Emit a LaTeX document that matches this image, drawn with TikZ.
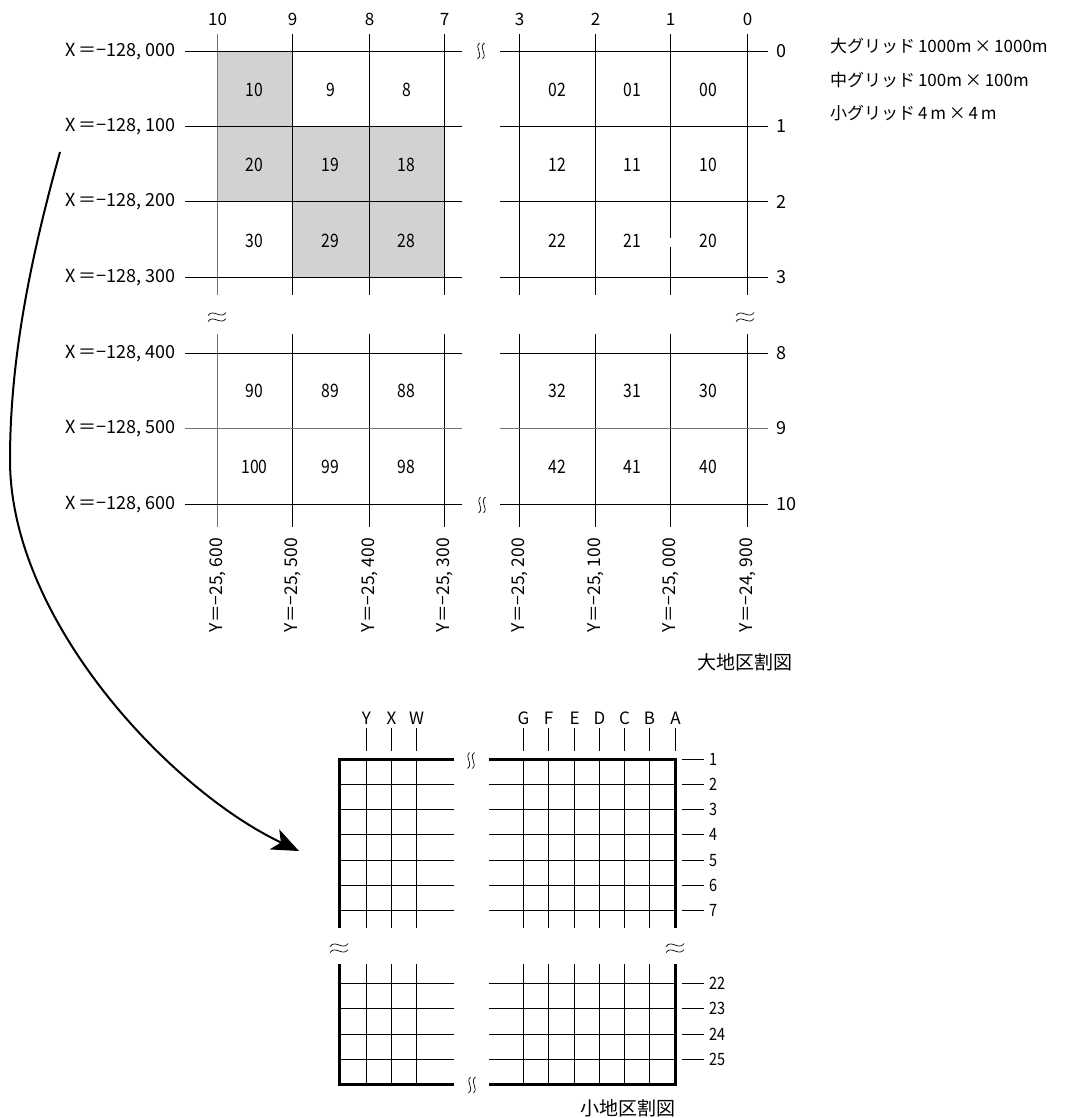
\documentclass[tikz,border=0pt]{standalone}
\usepackage{fontspec}
\usepackage{graphicx}
\setmainfont{Noto Sans CJK JP}
\usetikzlibrary{arrows.meta}
\newcommand{\myfs}[1]{\fontsize{#1}{#1}\selectfont}
\newcommand{\cnum}[1]{\scalebox{0.85}[1]{#1}}
\definecolor{shadegray}{RGB}{209,210,212}
\tikzset{
  gl/.style={line width=1.2pt, black},
  glgray/.style={line width=1.2pt, black!55},
  frameline/.style={line width=2.6pt, black},
  wav/.style={line width=0.7pt, black},
  toplab/.style={inner sep=0pt, font=\myfs{17}},
  sidelab/.style={inner sep=0pt, font=\myfs{18}, anchor=west},
  xlab/.style={inner sep=0pt, font=\myfs{18}, anchor=east},
  ylab/.style={inner sep=0pt, font=\myfs{17.5}, anchor=east, rotate=90},
  cellnum/.style={inner sep=0pt, font=\myfs{18.5}},
  legend/.style={inner sep=0pt, font=\myfs{17}, anchor=west},
  title/.style={inner sep=0pt, font=\myfs{19}},
  letlab/.style={inner sep=0pt, font=\myfs{17}},
  srowlab/.style={inner sep=0pt, font=\myfs{17}, anchor=west},
  pics/approxh/.style={code={
    \draw[wav] (-9,-1.5) .. controls (-4,-9) and (4,3) .. (9,-4.5);
    \draw[wav] (-9,4.5) .. controls (-4,-3) and (4,9) .. (9,1.5);
  }},
  pics/approxv/.style={code={
    \draw[wav] (-1.5,-8) .. controls (-7,-3) and (3,3) .. (-3.5,8);
    \draw[wav] (3.5,-8) .. controls (-3,-3) and (7,3) .. (1.5,8);
  }},
}
\begin{document}
\begin{tikzpicture}[x=1pt,y=-1pt]
\useasboundingbox (0,0) rectangle (1065,1118);

% ---------- large grid ----------
\fill[shadegray] (217.5,51.5) -- (292.5,51.5) -- (292.5,126.5) -- (444.5,126.5) -- (444.5,277.5)
  -- (292.5,277.5) -- (292.5,201.5) -- (217.5,201.5) -- cycle;

\draw[glgray] (217.5,34) -- (217.5,295);
\foreach \x in {292.5,369.5,444.5,519.5,595.5,747.5} \draw[gl] (\x,34) -- (\x,295);
\draw[gl] (670.5,34) -- (670.5,238) (670.5,247) -- (670.5,295);
\draw[glgray] (217.5,334) -- (217.5,527);
\foreach \x in {292.5,369.5,444.5,519.5,595.5,670.5,747.5} \draw[gl] (\x,334) -- (\x,527);

\foreach \y in {51.5,126.5,201.5,277.5,353.5,504.5} {
  \draw[gl] (185,\y) -- (462,\y);
  \draw[gl] (500,\y) -- (768,\y);
}
\draw[glgray] (185,428.5) -- (462,428.5);
\draw[glgray] (500,428.5) -- (768,428.5);

\pic at (481,51) {approxv};
\pic at (482,505) {approxv};
\pic at (217,317) {approxh};
\pic at (745,317) {approxh};

\foreach \t/\x in {10/217.5,9/292.5,8/369.5,7/444.5,3/519.5,2/595.5,1/670.5,0/747.5}
  \node[toplab] (top\t) at (\x,19) {\t};
\foreach \t/\y in {0/51.5,1/126.5,2/201.5,3/277.5,8/353.5,9/428.5,10/504.5}
  \node[sidelab] (row\t) at (776,\y) {\t};
\foreach \t/\y in {000/51.5,100/126.5,200/201.5,300/277.5,400/353.5,500/428.5,600/504.5}
  \node[xlab] (xl\t) at (176,\y) {X\,＝−128, \t};
\foreach \a/\b/\x in {25/600/217.5,25/500/292.5,25/400/369.5,25/300/444.5,25/200/519.5,25/100/595.5,25/000/670.5,24/900/747.5}
  \node[ylab] (yl\x) at (\x,538) {Y＝−\a, \b};

\foreach \t/\x/\y [count=\i] in {
  10/254.5/90, 9/330.5/90, 8/406.5/90, 02/557/90, 01/632.5/90, 00/708.5/90,
  20/254.5/165, 19/330.5/165, 18/406.5/165, 12/557/165, 11/632.5/165, 10/708.5/165,
  30/254.5/241, 29/330.5/241, 28/406.5/241, 22/557/241, 21/632.5/241, 20/708.5/241,
  90/254.5/391, 89/330.5/391, 88/406.5/391, 32/557/391, 31/632.5/391, 30/708.5/391,
  100/254.5/467, 99/330.5/467, 98/406.5/467, 42/557/467, 41/632.5/467, 40/708.5/467}
  \node[cellnum] (cell\i) at (\x,\y) {\cnum{\t}};

\node[legend] (leg1) at (830,46) {大グリッド\,1000m\,×\,1000m};
\node[legend] (leg2) at (830,80) {中グリッド\,100m\,×\,100m};
\node[legend] (leg3) at (830,113) {小グリッド\,4\,m\,×\,4\,m};

\node[title] (bigtitle) at (745,662) {大地区割図};

% ---------- small grid ----------
\foreach \x in {366.5,391.5,416.5,523.5,548.5,574.5,599.5,624.5,649.5} {
  \draw[gl] (\x,759) -- (\x,928);
  \draw[gl] (\x,964) -- (\x,1084);
}
\foreach \y in {784.5,809.5,834.5,860.5,885.5,910.5,983.5,1008.5,1034.5,1059.5} {
  \draw[gl] (339,\y) -- (454,\y);
  \draw[gl] (489,\y) -- (675,\y);
}
\draw[frameline] (454,759.5) -- (339.5,759.5) -- (339.5,928);
\draw[frameline] (489,759.5) -- (675.5,759.5) -- (675.5,928);
\draw[frameline] (339.5,964) -- (339.5,1084.5) -- (454,1084.5);
\draw[frameline] (675.5,964) -- (675.5,1084.5) -- (489,1084.5);

\pic at (471,760.5) {approxv};
\pic at (472,1085) {approxv};
\pic at (339,948) {approxh};
\pic at (675,948) {approxh};

\foreach \t/\x in {Y/366.5,X/391.5,W/416.5,G/523.5,F/548.5,E/574.5,D/599.5,C/624.5,B/649.5,A/675.5} {
  \draw[gl] (\x,728) -- (\x,751);
  \node[letlab] (col\t) at (\x,718) {\t};
}
\foreach \t/\y in {1/759.5,2/784.5,3/809.5,4/834.5,5/860.5,6/885.5,7/910.5,22/983.5,23/1008.5,24/1034.5,25/1059.5} {
  \draw[gl] (682,\y) -- (704,\y);
  \node[srowlab] (srow\t) at (709,\y) {\cnum{\t}};
}

\node[title] (smalltitle) at (628,1108) {小地区割図};

% ---------- arrow ----------
\coordinate (arrS) at (60,152);
\coordinate (arrM) at (10,460);
\coordinate (arrE) at (299,851);
\draw[line width=2pt, -{Stealth[length=27pt,width=22pt,inset=7pt]}]
  (arrS) .. controls (30,260) and (10,360) .. (arrM)
  .. controls (10,620) and (170,790) .. (arrE);
\end{tikzpicture}
\end{document}
